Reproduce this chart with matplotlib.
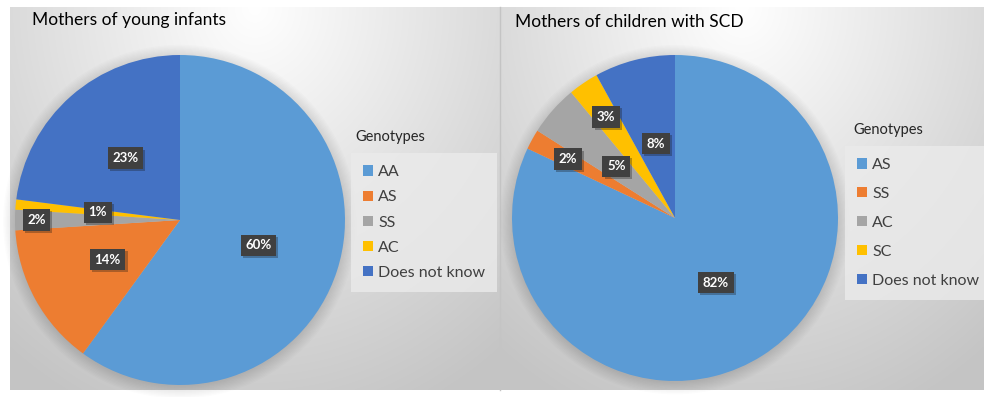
import numpy as np
import matplotlib.pyplot as plt
from matplotlib.patches import Patch, Circle
import matplotlib.patheffects as pe

left_title = "Mothers of young infants"
left_labels = ["AA", "AS", "SS", "AC", "Does not know"]
left_values = [60, 14, 2, 1, 23]
right_title = "Mothers of children with SCD"
right_labels = ["AS", "SS", "AC", "SC", "Does not know"]
right_values = [82, 2, 5, 3, 8]
legend_title = "Genotypes"
colors = ["#5B9BD5", "#ED7D31", "#A5A5A5", "#FFC000", "#4472C4"]
left_label_dist = [0.5, 0.5, 0.87, 0.5, 0.5]
right_label_dist = [0.47, 0.75, 0.48, 0.75, 0.47]

plt.rcParams['font.family'] = ['Lato', 'DejaVu Sans']
W, H = 984, 397
fig = plt.figure(figsize=(9.84, 3.97), dpi=100)
fig.patch.set_facecolor('white')

bg = fig.add_axes([0, 0, 1, 1])


def gradient(x0, x1, y0, y1):
    xs = np.linspace(-1, 1, 300)
    ys = np.linspace(0, 1, 300)
    X, Y = np.meshgrid(xs, ys)
    d = np.sqrt((X * 0.75) ** 2 + (Y * 1.05) ** 2)
    v = 1 - 0.19 * np.clip(d, 0, 1.2)
    img = np.dstack([v, v, v])
    bg.imshow(img, extent=(x0, x1, y1, y0), aspect='auto', zorder=0, interpolation='bilinear')


gradient(10, 500, 7, 390)
gradient(500, 984, 7, 390)
bg.plot([500, 500], [7, 390], color='#c4c4c4', lw=1, zorder=1)
bg.set_xlim(0, W)
bg.set_ylim(H, 0)
bg.axis('off')


def draw_pie(cx, cy, r, values, dists):
    ax = fig.add_axes([(cx - r) / W, 1 - (cy + r) / H, 2 * r / W, 2 * r / H])
    for i in range(10):
        ax.add_patch(Circle((0.0, -0.01), 1 + 0.008 * i, color='k', alpha=0.012,
                            lw=0, zorder=0, clip_on=False))
    wedges, _ = ax.pie(values, colors=colors, startangle=90, counterclock=False,
                       radius=1, wedgeprops=dict(linewidth=0))
    for w, v, d in zip(wedges, values, dists):
        th = np.deg2rad((w.theta1 + w.theta2) / 2)
        x, y = d * np.cos(th), d * np.sin(th)
        t = ax.text(x, y, f"{v}%", ha='center', va='center', color='white',
                    fontsize=9.5, fontweight='bold',
                    bbox=dict(boxstyle='square,pad=0.35', fc='#404040', ec='none'))
        t.get_bbox_patch().set_path_effects(
            [pe.SimplePatchShadow(offset=(1.5, -1.5), alpha=0.3), pe.Normal()])
    ax.set_xlim(-1, 1)
    ax.set_ylim(-1, 1)
    ax.set_aspect('equal')
    ax.axis('off')


draw_pie(180, 220, 165, left_values, left_label_dist)
draw_pie(675, 218, 163, right_values, right_label_dist)

fig.text(32 / W, 1 - 20 / H, left_title, fontsize=12.5, color='black', va='center', ha='left')
fig.text(515 / W, 1 - 22 / H, right_title, fontsize=12.5, color='black', va='center', ha='left')

fig.text(355 / W, 1 - 137 / H, legend_title, fontsize=10.5, color='#262626', va='center')
fig.text(853 / W, 1 - 130 / H, legend_title, fontsize=10.5, color='#262626', va='center')


def legend(labels, x, y, spacing):
    handles = [Patch(facecolor=c, edgecolor='none') for c in colors]
    lg = fig.legend(handles, labels, loc='upper left', bbox_to_anchor=(x / W, 1 - y / H),
                    frameon=True, fontsize=11.5, handlelength=0.6, handleheight=0.6,
                    handletextpad=0.35, labelspacing=spacing, borderpad=0.45,
                    borderaxespad=0)
    lg.get_frame().set_facecolor('#ebebeb')
    lg.get_frame().set_edgecolor('none')
    lg.get_frame().set_boxstyle('square')
    for t in lg.get_texts():
        t.set_color('#404040')
    return lg


legend(left_labels, 356, 158, 0.7)
legend(right_labels, 850, 151, 0.93)

fig.savefig('out.png', dpi=100, facecolor='white')
